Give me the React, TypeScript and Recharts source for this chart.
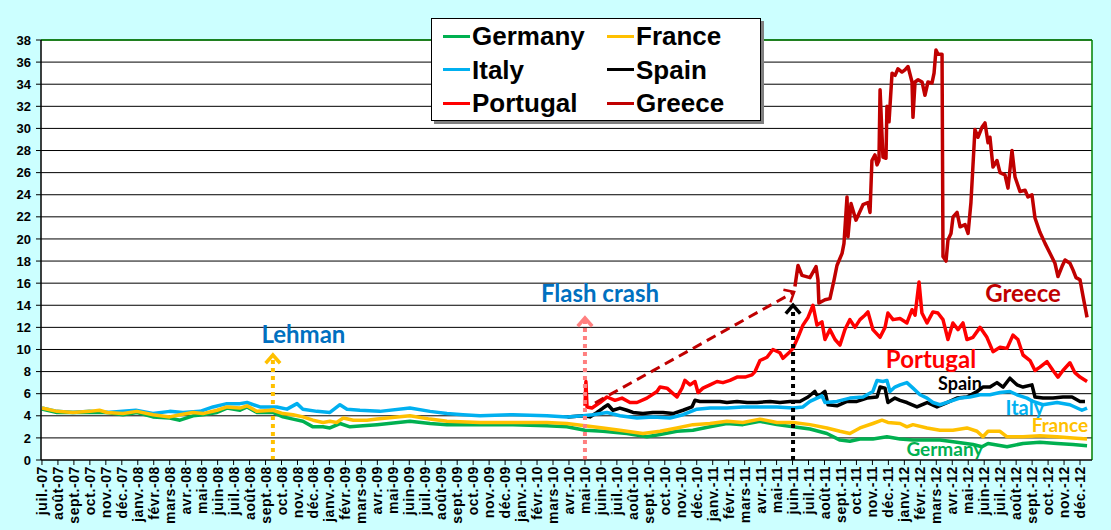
import React from 'react';
import { LineChart, Line, XAxis, YAxis, CartesianGrid, ReferenceLine, ReferenceDot, Legend } from 'recharts';

// month index 0 = juil.-07 ... 65 = déc.-12
const monthNames = ['juil.', 'août', 'sept.', 'oct.', 'nov.', 'déc.', 'janv.', 'févr.', 'mars', 'avr.', 'mai', 'juin'];
const yearLabels = ['07', '08', '09', '10', '11', '12'];
const yTicks = [0, 2, 4, 6, 8, 10, 12, 14, 16, 18, 20, 22, 24, 26, 28, 30, 32, 34, 36, 38];

const germany: [number, number][] = [
  [0, 4.6], [0.94, 4.3], [1.94, 4.3], [3.0, 4.3], [4.07, 4.3], [5.07, 4.1], [5.95, 4.3], [6.95, 3.9], [8.0, 3.8], [8.64, 3.6],
  [9.46, 4.0], [10.08, 4.1], [10.96, 4.3], [11.58, 4.7], [12.4, 4.5], [12.84, 4.8], [13.46, 4.3], [14.46, 4.3], [15.09, 3.9],
  [15.72, 3.7], [16.34, 3.5], [16.97, 3.0], [17.6, 3.0], [18.03, 2.9], [18.66, 3.3], [19.29, 3.0], [20.1, 3.1], [20.98, 3.2],
  [23.04, 3.5], [24.3, 3.3], [25.36, 3.2], [27.43, 3.2], [29.49, 3.2], [31.62, 3.1], [32.87, 3.0], [34.0, 2.7], [35.13, 2.6],
  [36.63, 2.4], [37.88, 2.1], [38.7, 2.3], [39.76, 2.6], [40.76, 2.7], [41.83, 3.0], [42.89, 3.3], [43.89, 3.2], [44.96, 3.5],
  [46.02, 3.2], [47.03, 3.0], [48.09, 2.8], [49.15, 2.4], [49.97, 1.8], [50.59, 1.7], [51.22, 1.9], [52.03, 1.9], [52.91, 2.1],
  [53.73, 1.9], [54.54, 1.8], [55.42, 1.8], [56.23, 1.8], [57.29, 1.6], [58.3, 1.4], [58.86, 1.2], [59.24, 1.5], [60.43, 1.2],
  [61.43, 1.5], [62.49, 1.6], [63.56, 1.5], [64.56, 1.4], [65.44, 1.3],
];

const france: [number, number][] = [
  [0, 4.7], [0.94, 4.4], [1.94, 4.3], [3.0, 4.4], [3.6, 4.5], [4.07, 4.3], [5.07, 4.2], [5.95, 4.4], [6.95, 4.1], [8.0, 3.9],
  [8.64, 4.1], [9.46, 4.3], [10.08, 4.2], [10.96, 4.5], [11.58, 4.8], [12.4, 4.7], [12.84, 4.9], [13.46, 4.4], [14.46, 4.5],
  [15.09, 4.2], [15.72, 4.1], [16.34, 3.9], [16.97, 3.6], [17.6, 3.4], [18.03, 3.5], [18.45, 3.4], [18.87, 3.8], [19.5, 3.6],
  [20.35, 3.6], [20.98, 3.7], [23.04, 4.0], [24.3, 3.7], [25.36, 3.5], [27.43, 3.4], [29.49, 3.4], [31.62, 3.4], [32.87, 3.3],
  [34.0, 3.1], [35.13, 2.9], [36.19, 2.7], [37.63, 2.4], [38.7, 2.6], [39.76, 2.9], [40.76, 3.2], [41.83, 3.3], [42.89, 3.5],
  [43.89, 3.4], [44.96, 3.7], [46.02, 3.4], [47.03, 3.4], [48.09, 3.2], [49.15, 2.9], [49.97, 2.6], [50.59, 2.4], [51.22, 2.9],
  [52.03, 3.3], [52.6, 3.6], [52.97, 3.4], [53.73, 3.3], [54.16, 3.0], [54.54, 3.2], [55.42, 2.9], [56.23, 2.7], [57.04, 2.7],
  [57.92, 2.9], [58.55, 2.6], [58.92, 2.1], [59.24, 2.6], [59.99, 2.6], [60.43, 2.1], [61.43, 2.1], [62.49, 2.2], [63.56, 2.1],
  [64.56, 2.0], [65.44, 1.9],
];

const italy: [number, number][] = [
  [0, 4.7], [0.94, 4.4], [1.94, 4.3], [3.0, 4.4], [4.07, 4.3], [5.07, 4.4], [5.88, 4.5], [6.95, 4.2], [8.0, 4.4], [8.83, 4.3],
  [9.9, 4.4], [10.71, 4.8], [11.58, 5.1], [12.4, 5.1], [12.84, 5.2], [13.65, 4.8], [14.71, 4.8], [15.34, 4.6], [15.97, 5.1],
  [16.34, 4.6], [17.22, 4.4], [18.03, 4.3], [18.66, 5.0], [19.1, 4.6], [19.91, 4.5], [21.16, 4.4], [23.04, 4.7], [24.3, 4.4],
  [25.36, 4.2], [26.36, 4.1], [27.43, 4.0], [29.49, 4.1], [31.62, 4.0], [32.87, 3.9], [33.88, 4.0], [34.5, 4.1], [35.38, 4.3],
  [36.19, 4.0], [37.26, 3.8], [38.26, 3.9], [39.32, 3.8], [40.14, 4.1], [41.01, 4.6], [41.83, 4.7], [42.89, 4.7], [43.89, 4.8],
  [44.96, 4.8], [46.02, 4.8], [47.03, 4.7], [47.65, 4.8], [48.09, 5.3], [48.53, 5.6], [48.84, 5.8], [49.03, 5.2], [49.78, 5.3],
  [50.59, 5.6], [51.41, 5.7], [52.03, 6.2], [52.29, 7.2], [52.66, 7.1], [52.91, 7.2], [53.1, 6.2], [53.41, 6.6], [53.73, 6.8],
  [54.16, 7.0], [54.54, 6.5], [54.98, 5.9], [55.42, 5.6], [55.79, 5.2], [56.23, 5.0], [56.86, 5.3], [57.48, 5.6], [58.11, 5.7],
  [58.74, 5.9], [59.36, 5.9], [59.99, 6.1], [60.61, 6.2], [61.05, 5.9], [61.68, 5.6], [62.05, 5.3], [62.68, 5.0], [63.56, 5.2],
  [64.37, 5.0], [65.12, 4.5], [65.44, 4.7],
];

const spain: [number, number][] = [
  [32.9, 3.9], [33.88, 4.0], [34.31, 3.9], [34.75, 4.3], [35.13, 4.7], [35.44, 5.0], [35.75, 4.5], [36.19, 4.7], [36.63, 4.5],
  [37.01, 4.3], [37.63, 4.2], [38.26, 4.3], [38.89, 4.3], [39.51, 4.2], [40.14, 4.5], [40.7, 4.8], [40.89, 5.4], [41.2, 5.3],
  [41.83, 5.3], [42.45, 5.3], [42.89, 5.2], [43.52, 5.3], [44.15, 5.2], [44.77, 5.2], [45.59, 5.3], [46.21, 5.2], [46.84, 5.3],
  [47.46, 5.3], [47.97, 5.7], [48.4, 6.2], [48.59, 5.7], [49.03, 6.2], [49.22, 5.0], [49.78, 4.9], [50.41, 5.3], [51.03, 5.3],
  [51.66, 5.6], [52.29, 5.7], [52.48, 6.6], [52.79, 6.5], [52.97, 5.2], [53.41, 5.6], [53.73, 5.4], [54.16, 5.2], [54.79, 4.8],
  [55.42, 5.2], [56.04, 4.8], [56.67, 5.2], [57.29, 5.6], [57.92, 5.7], [58.55, 6.2], [58.92, 6.6], [59.36, 6.6], [59.8, 7.0],
  [60.18, 6.6], [60.61, 7.4], [61.05, 6.8], [61.43, 6.6], [61.99, 6.8], [62.18, 5.7], [62.68, 5.6], [63.31, 5.6], [63.93, 5.7],
  [64.5, 5.7], [65.0, 5.3], [65.31, 5.3],
];

const portugal: [number, number][] = [
  [34.0, 4.9], [34.06, 7.1], [34.13, 4.8], [34.44, 4.7], [34.94, 5.2], [35.38, 5.7], [35.88, 5.4], [36.32, 5.6], [36.82, 5.2],
  [37.26, 5.2], [37.88, 5.6], [38.51, 6.2], [38.7, 6.6], [39.14, 6.5], [39.45, 6.1], [39.76, 5.7], [40.08, 6.5], [40.26, 7.2],
  [40.58, 6.8], [40.89, 7.1], [41.08, 6.1], [41.39, 6.5], [41.83, 6.8], [42.27, 7.1], [42.64, 7.0], [43.08, 7.2], [43.52, 7.5],
  [44.02, 7.5], [44.46, 7.7], [44.65, 8.0], [44.96, 9.0], [45.4, 9.3], [45.77, 10.0], [46.21, 9.7], [46.4, 9.2], [46.84, 9.8],
  [47.03, 10.1], [47.34, 11.1], [47.65, 12.2], [47.97, 12.9], [48.28, 14.0], [48.53, 12.2], [48.84, 12.5], [49.03, 10.9],
  [49.34, 11.8], [49.66, 10.9], [49.97, 10.4], [50.28, 11.8], [50.59, 12.7], [50.91, 12.0], [51.22, 12.7], [51.53, 13.1],
  [51.72, 13.4], [52.03, 11.8], [52.48, 11.1], [52.79, 12.0], [52.97, 13.3], [53.29, 12.7], [53.73, 12.8], [54.16, 12.4],
  [54.48, 13.6], [54.67, 13.1], [54.92, 16.1], [55.1, 13.3], [55.42, 12.4], [55.79, 13.4], [56.1, 13.3], [56.42, 12.7],
  [56.73, 10.9], [57.04, 12.4], [57.36, 11.8], [57.67, 12.4], [57.92, 10.9], [58.3, 11.1], [58.74, 12.0], [59.17, 11.1],
  [59.55, 9.8], [59.99, 10.2], [60.43, 10.1], [60.8, 11.3], [61.11, 10.9], [61.43, 9.5], [61.87, 9.0], [62.18, 8.1], [62.49, 8.4],
  [62.93, 8.9], [63.31, 8.1], [63.62, 7.5], [63.93, 8.1], [64.37, 8.8], [64.68, 7.9], [65.0, 7.5], [65.44, 7.1],
];

const greece: [number, number][] = [
  [47.15, 15.7], [47.34, 17.6], [47.59, 16.7], [48.09, 16.5], [48.47, 17.5], [48.59, 16.3], [48.65, 14.2], [49.03, 14.5],
  [49.34, 14.6], [49.6, 16.3], [49.78, 17.6], [50.1, 18.7], [50.22, 19.6], [50.41, 23.8], [50.47, 20.2], [50.66, 23.2],
  [50.97, 21.7], [51.41, 23.1], [51.72, 23.3], [51.85, 22.4], [51.97, 27.1], [52.16, 27.6], [52.29, 26.7], [52.41, 27.1],
  [52.48, 33.5], [52.66, 27.4], [52.85, 27.3], [52.91, 32.0], [53.04, 30.6], [53.23, 35.0], [53.42, 34.8], [53.6, 35.4],
  [53.85, 35.1], [54.04, 35.3], [54.23, 35.6], [54.48, 34.2], [54.54, 31.0], [54.67, 34.2], [54.86, 34.4], [55.11, 34.2],
  [55.29, 33.0], [55.48, 34.2], [55.73, 34.1], [55.86, 35.0], [55.98, 37.1], [56.11, 36.7], [56.36, 36.7], [56.42, 18.4],
  [56.61, 18.0], [56.73, 19.9], [56.92, 20.5], [57.05, 22.0], [57.3, 22.4], [57.49, 21.1], [57.8, 21.3], [57.99, 20.5],
  [58.17, 23.3], [58.42, 29.9], [58.61, 29.2], [58.86, 30.1], [59.05, 30.5], [59.24, 28.7], [59.36, 29.2], [59.55, 26.5],
  [59.8, 27.1], [59.99, 26.0], [60.3, 25.8], [60.49, 24.6], [60.74, 28.0], [60.93, 25.6], [61.24, 24.3], [61.56, 24.4],
  [61.74, 23.8], [61.99, 24.0], [62.18, 21.9], [62.49, 20.6], [62.81, 19.6], [63.12, 18.7], [63.43, 17.8], [63.62, 16.6],
  [63.87, 17.5], [64.06, 18.1], [64.37, 17.8], [64.56, 17.2], [64.75, 16.5], [65.0, 16.3], [65.19, 14.8], [65.44, 12.9],
];

const COLORS = {
  Germany: '#00B050',
  France: '#FFC000',
  Italy: '#00B0F0',
  Spain: '#000000',
  Portugal: '#FF0000',
  Greece: '#C00000',
};

const monthLabels: string[] = [];
for (let i = 0; i < 66; i++) {
  monthLabels.push(`${monthNames[i % 12]}-${yearLabels[Math.floor((i + 6) / 12)]}`);
}
const xTicks = monthLabels.map((_, i) => i);

const toRows = (pts: [number, number][]) => pts.map(([x, v]) => ({ x, v }));

// draw order (later on top)
const drawOrder: { name: keyof typeof COLORS; data: [number, number][] }[] = [
  { name: 'Spain', data: spain },
  { name: 'Italy', data: italy },
  { name: 'Germany', data: germany },
  { name: 'France', data: france },
  { name: 'Portugal', data: portugal },
  { name: 'Greece', data: greece },
];

const legendRows: (keyof typeof COLORS)[][] = [
  ['Germany', 'France'],
  ['Italy', 'Spain'],
  ['Portugal', 'Greece'],
];

// annotations (data coordinates)
const annotations = [
  { text: 'Lehman', x: 16.37, y: 10.6, color: '#0070C0', size: 24 },
  { text: 'Flash crash', x: 34.94, y: 14.3, color: '#0070C0', size: 24 },
  { text: 'Greece', x: 61.43, y: 14.3, color: COLORS.Greece, size: 24 },
  { text: 'Portugal', x: 55.67, y: 8.33, color: COLORS.Portugal, size: 24 },
  { text: 'Spain', x: 57.48, y: 6.33, color: COLORS.Spain, size: 18 },
  { text: 'Italy', x: 61.55, y: 4.07, color: COLORS.Italy, size: 20 },
  { text: 'France', x: 63.74, y: 2.53, color: COLORS.France, size: 19 },
  { text: 'Germany', x: 56.54, y: 0.36, color: COLORS.Germany, size: 19 },
];

const arrows = [
  { from: { x: 14.46, y: 0 }, to: { x: 14.46, y: 9.5 }, color: '#FFC000', width: 4, dash: '4 4' },
  { from: { x: 34.0, y: 0 }, to: { x: 34.0, y: 12.85 }, color: '#FF8080', width: 4, dash: '4 4' },
  { from: { x: 47.03, y: 0 }, to: { x: 47.03, y: 14.0 }, color: '#000000', width: 4, dash: '4 4' },
  { from: { x: 34.63, y: 5.16 }, to: { x: 47.1, y: 15.2 }, color: '#C00000', width: 3, dash: '10 6' },
];

const makeArrowShape = (color: string, width: number, dash: string) => (props: any) => {
  const { x1, y1, x2, y2 } = props;
  const ang = Math.atan2(y2 - y1, x2 - x1);
  const L = 11;
  const a = 0.72;
  const bx1 = x2 - L * Math.cos(ang - a);
  const by1 = y2 - L * Math.sin(ang - a);
  const bx2 = x2 - L * Math.cos(ang + a);
  const by2 = y2 - L * Math.sin(ang + a);
  return (
    <g>
      <line x1={x1} y1={y1} x2={x2} y2={y2} stroke={color} strokeWidth={width} strokeDasharray={dash} />
      <polyline
        points={`${bx1},${by1} ${x2},${y2} ${bx2},${by2}`}
        fill="none"
        stroke={color}
        strokeWidth={width - 0.5}
        strokeLinejoin="miter"
      />
    </g>
  );
};

const makeTextShape = (text: string, color: string, size: number) => (props: any) => (
  <text
    x={props.cx}
    y={props.cy}
    textAnchor="middle"
    fill={color}
    fontFamily="Lato, 'Open Sans', sans-serif"
    fontWeight={700}
    fontSize={size}
  >
    {text}
  </text>
);

const XTick = (props: any) => {
  const { x, y, payload } = props;
  const label = monthLabels[payload.value] ?? '';
  return (
    <text
      x={x}
      y={y}
      transform={`rotate(-90, ${x}, ${y})`}
      textAnchor="end"
      dy="0.36em"
      fill="#000"
      fontFamily="'Liberation Sans', Arial, sans-serif"
      fontWeight={700}
      fontSize={14}
      letterSpacing={0.6}
    >
      {label}
    </text>
  );
};

const LegendBox = () => (
  <div
    style={{
      width: 330,
      height: 103,
      boxSizing: 'border-box',
      background: '#fff',
      border: '1px solid #000',
      boxShadow: '3px 3px 0 #808080',
      position: 'relative',
      fontFamily: "'Liberation Sans', Arial, sans-serif",
      fontWeight: 700,
      fontSize: 26,
      color: '#000',
    }}
  >
    {legendRows.map((row, r) =>
      row.map((name, c) => (
        <div
          key={name}
          style={{
            position: 'absolute',
            left: c === 0 ? 11 : 175,
            top: 2 + r * 33.5,
            height: 30,
            display: 'flex',
            alignItems: 'center',
            whiteSpace: 'nowrap',
          }}
        >
          <span style={{ display: 'inline-block', width: 27, height: 3, background: COLORS[name], marginRight: 2 }} />
          <span style={{ lineHeight: '30px' }}>{name}</span>
        </div>
      ))
    )}
  </div>
);

export default function App() {
  return (
    <div style={{ width: 1111, height: 530, background: '#CCFFFF' }}>
      <style>{'body{margin:0;}'}</style>
      <LineChart
        width={1111}
        height={530}
        margin={{ top: 40, right: 19, left: 0, bottom: 0 }}
        style={{ background: '#CCFFFF' }}
      >
        <CartesianGrid horizontal vertical={false} stroke="#000" strokeWidth={1} fill="#fff" fillOpacity={1} />
        <XAxis
          type="number"
          dataKey="x"
          domain={[-0.06, 65.75]}
          ticks={xTicks}
          interval={0}
          allowDataOverflow
          height={70}
          tick={<XTick />}
          tickSize={5}
          tickMargin={1}
          stroke="#000"
          axisLine={{ stroke: '#000', strokeWidth: 1 }}
          tickLine={{ stroke: '#000' }}
        />
        <YAxis
          type="number"
          domain={[0, 38]}
          ticks={yTicks}
          interval={0}
          allowDataOverflow
          width={41}
          tickSize={5}
          tickMargin={5}
          axisLine={{ stroke: '#000', strokeWidth: 1.5 }}
          tickLine={{ stroke: '#000' }}
          tick={{ fill: '#000', fontSize: 13, fontWeight: 700, fontFamily: "'Liberation Sans', Arial, sans-serif" }}
        />
        {drawOrder.map((s) => (
          <Line
            key={s.name}
            name={s.name}
            data={toRows(s.data)}
            dataKey="v"
            type="linear"
            stroke={COLORS[s.name]}
            strokeWidth={3.5}
            dot={false}
            activeDot={false}
            isAnimationActive={false}
            strokeLinejoin="round"
          />
        ))}
        <ReferenceLine y={38} stroke="#008000" strokeWidth={1.5} ifOverflow="visible" />
        <ReferenceLine x={65.75} stroke="#008000" strokeWidth={1.5} ifOverflow="visible" />
        {arrows.map((a, i) => (
          <ReferenceLine
            key={`arrow-${i}`}
            segment={[a.from, a.to]}
            ifOverflow="visible"
            shape={makeArrowShape(a.color, a.width, a.dash)}
          />
        ))}
        {annotations.map((t) => (
          <ReferenceDot
            key={t.text}
            x={t.x}
            y={t.y}
            r={0}
            ifOverflow="visible"
            shape={makeTextShape(t.text, t.color, t.size)}
          />
        ))}
        <Legend
          layout="horizontal"
          verticalAlign="middle"
          align="center"
          wrapperStyle={{ left: 431, top: 18, width: 334, height: 107 }}
          content={() => <LegendBox />}
        />
      </LineChart>
    </div>
  );
}
